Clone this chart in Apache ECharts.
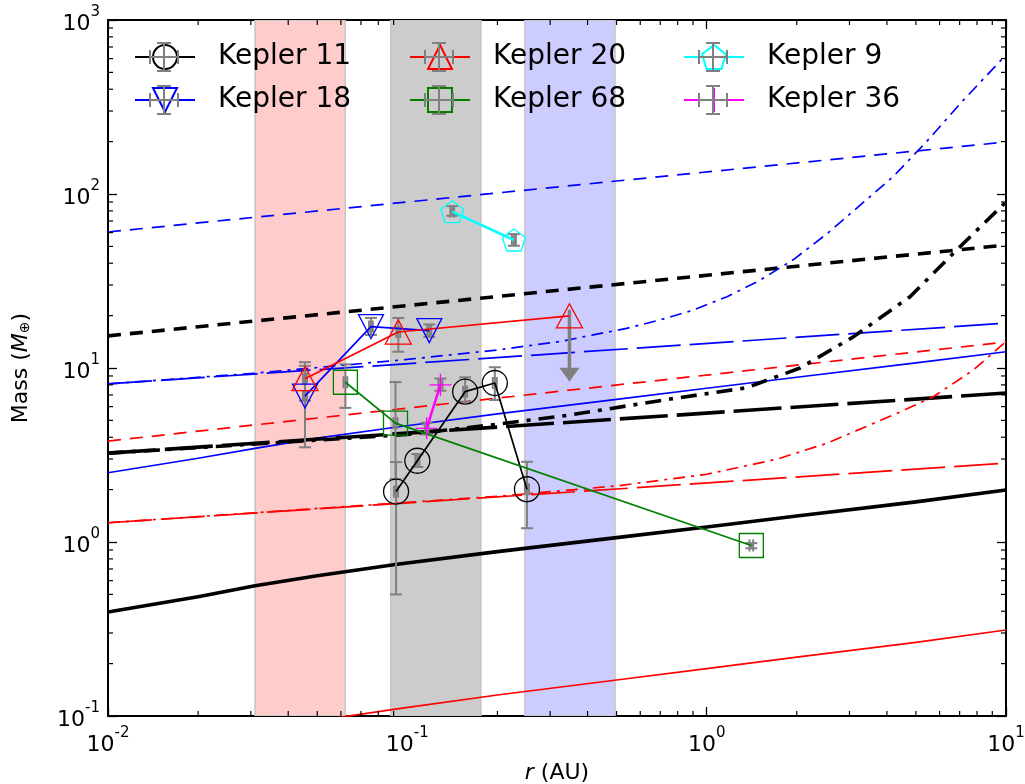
<!DOCTYPE html>
<html><head><meta charset="utf-8">
<script src="https://cdn.jsdelivr.net/npm/echarts@6/dist/echarts.min.js"></script>
<style>html,body{margin:0;padding:0;background:#fff}#c{width:1025px;height:784px}</style>
</head><body><div id="c"></div>
<script>
const FONT = 'DejaVu Sans';

// ---- axis ticks ----
const xMajorTicks = [0.01, 0.1, 1, 10];
const yMajorTicks = [0.1, 1, 10, 100, 1000];
const xMinorTicks = [0.02,0.03,0.04,0.05,0.06,0.07,0.08,0.09,0.2,0.3,0.4,0.5,0.6,0.7,0.8,0.9,2,3,4,5,6,7,8,9];
const yMinorTicks = [0.2,0.3,0.4,0.5,0.6,0.7,0.8,0.9,2,3,4,5,6,7,8,9,20,30,40,50,60,70,80,90,200,300,400,500,600,700,800,900];

// ---- shaded bands (AU) ----
const bandStart = [0.031, 0.088, 0.247];
const bandEnd   = [0.062, 0.176, 0.494];
const bandColor = ['#ffcccc', '#cccccc', '#ccccff'];

// ---- model lines ----
const rEnds = [0.01, 10];
const blueDashM      = [60.5, 199];
const blackDashM     = [15.3, 50.9];
const blueLongDashM  = [8.1, 18.1];
const redDashM       = [3.8, 14.1];
const blackLongDashM = [3.24, 7.18];
const redLongDashM   = [1.29, 2.84];

const rCurve = [0.01, 0.02, 0.031, 0.05, 0.0925, 0.2, 0.5, 1, 2, 5, 10];
const blueSolidM  = [2.50, 3.03, 3.45, 3.95, 4.58, 5.45, 6.6, 7.65, 8.85, 10.7, 12.4];
const blackSolidM = [0.396, 0.485, 0.56, 0.64, 0.745, 0.88, 1.06, 1.22, 1.41, 1.70, 1.99];
const redSolidM   = [0.058, 0.071, 0.081, 0.094, 0.110, 0.132, 0.161, 0.187, 0.218, 0.265, 0.312];

const rBlueDD = [0.01, 0.03, 0.1, 0.2, 0.324, 0.418, 0.54, 0.70, 0.90, 1.17, 1.51, 1.95, 2.52, 3.25, 4.2, 5.43, 7.02, 10];
const blueDashDotM = [8.1, 9.3, 11.2, 12.7, 14.2, 15.5, 16.9, 18.9, 21.5, 25.7, 32.0, 42.0, 59, 86, 126, 200, 330, 630];

const rBlackDD = [0.01, 0.1, 0.2, 0.35, 0.754, 1.36, 2.05, 3.09, 4.78, 7.02, 10];
const blackDashDotM = [3.24, 4.15, 4.75, 5.37, 6.63, 7.7, 10.0, 15.1, 25.7, 49.8, 90];

const rRedDD = [0.01, 0.1, 0.2, 0.5, 1.0, 1.714, 2.518, 4.2, 5.72, 7.78, 10];
const redDashDotM = [1.29, 1.69, 1.83, 2.1, 2.45, 2.99, 3.69, 5.37, 6.84, 9.74, 14.2];

// ---- planets: r (AU), mass (M_earth), mass error bounds, r error ----
const k11R  = [0.0917, 0.108, 0.156, 0.196, 0.251];
const k11M  = [1.95, 2.93, 7.31, 8.2, 2.01];
const k11Hi = [2.88, 3.2, 8.84, 10.1, 2.89];
const k11Lo = [0.50, 2.7, 6.4, 6.55, 1.20];
const k11RE = [0.0014, 0.0017, 0.0024, 0.003, 0.004];

const k18R  = [0.0455, 0.0756, 0.1184];
const k18M  = [6.9, 17.3, 16.4];
const k18Hi = [10.3, 19.4, 17.8];
const k18Lo = [3.5, 15.5, 15.1];
const k18RE = [0.0007, 0.0011, 0.0018];

const k20R  = [0.0455, 0.0933, 0.348];
const k20M  = [8.68, 16.1, 19.95];
const k20Hi = [10.8, 19.4];
const k20Lo = [6.5, 12.4];
const k20RE = [0.0007, 0.0014];
const k20LimitTip = 8.34;   // upper-limit arrow for Kepler-20 d

const k68R  = [0.0621, 0.0913, 1.41];
const k68M  = [8.28, 4.82, 0.955];
const k68Hi = [10.5, 8.3, 0.985];
const k68Lo = [5.9, 2.3, 0.92];
const k68RE = [0.0009, 0.0014, 0.02];

const k9R  = [0.1413, 0.227];
const k9M  = [79.1, 54.4];
const k9Hi = [85.2, 58.8];
const k9Lo = [75.0, 50.4];
const k9RE = [0.002, 0.0035];

const k36R  = [0.116, 0.129];
const k36M  = [4.5, 8.0];
const k36Hi = [4.85, 8.7];
const k36Lo = [4.15, 7.4];
const k36RE = [0.0017, 0.002];

// ---- helpers ----
function pairs(xs, ys) { return xs.map((x, i) => [x, ys[i]]); }

function modelLine(xs, ys, color, width, dash) {
  return {
    type: 'line', data: pairs(xs, ys), symbol: 'none', silent: true, clip: true, smooth: false,
    lineStyle: { color: color, width: width, type: dash, cap: 'butt', join: 'round' },
    z: 3, animation: false
  };
}

function planetLine(name, xs, ys, color, symbol, size, rotate, lw) {
  return {
    type: 'line', name: name, data: pairs(xs, ys), symbol: symbol, symbolSize: size,
    symbolRotate: rotate || 0, showAllSymbol: true, clip: false,
    lineStyle: { color: color, width: lw },
    itemStyle: { color: 'rgba(0,0,0,0)', borderColor: color, borderWidth: 1.3 },
    emphasis: { disabled: true }, z: 10, animation: false
  };
}

const errData = [];
function addErr(rs, ms, lo, hi, re) {
  for (let i = 0; i < lo.length; i++) errData.push([rs[i], ms[i], lo[i], hi[i], rs[i] - re[i], rs[i] + re[i]]);
}
addErr(k11R, k11M, k11Lo, k11Hi, k11RE);
addErr(k18R, k18M, k18Lo, k18Hi, k18RE);
addErr(k20R, k20M, k20Lo, k20Hi, k20RE);
addErr(k68R, k68M, k68Lo, k68Hi, k68RE);
addErr(k9R, k9M, k9Lo, k9Hi, k9RE);
addErr(k36R, k36M, k36Lo, k36Hi, k36RE);

const GRAY = '#808080';
function errRender(params, api) {
  const x = api.value(0), y = api.value(1);
  const pLo = api.coord([x, api.value(2)]), pHi = api.coord([x, api.value(3)]);
  const pXl = api.coord([api.value(4), y]), pXh = api.coord([api.value(5), y]);
  const c = 6, st = { stroke: GRAY, lineWidth: 2 };
  const L = (x1, y1, x2, y2) => ({ type: 'line', shape: { x1, y1, x2, y2 }, style: st });
  return { type: 'group', children: [
    L(pLo[0], pLo[1], pHi[0], pHi[1]),
    L(pLo[0] - c, pLo[1], pLo[0] + c, pLo[1]),
    L(pHi[0] - c, pHi[1], pHi[0] + c, pHi[1]),
    L(pXl[0], pXl[1], pXh[0], pXh[1]),
    L(pXl[0], pXl[1] - c, pXl[0], pXl[1] + c),
    L(pXh[0], pXh[1] - c, pXh[0], pXh[1] + c)
  ]};
}

function arrowRender(params, api) {
  const x = api.value(0);
  const p0 = api.coord([x, api.value(1)]), p1 = api.coord([x, api.value(2)]);
  const hw = 10, hh = 14;
  return { type: 'group', children: [
    { type: 'line', shape: { x1: p0[0], y1: p0[1] - 6, x2: p1[0], y2: p1[1] - hh + 1 }, style: { stroke: GRAY, lineWidth: 3.5 } },
    { type: 'polygon', shape: { points: [[p1[0] - hw, p1[1] - hh], [p1[0] + hw, p1[1] - hh], [p1[0], p1[1]]] }, style: { fill: GRAY } }
  ]};
}

function bandRender(params, api) {
  const cs = params.coordSys;
  const a = api.coord([api.value(0), 1]), b = api.coord([api.value(2), 1]);
  return { type: 'rect', shape: { x: a[0], y: cs.y, width: b[0] - a[0], height: cs.height },
    style: { fill: bandColor[params.dataIndex], stroke: '#c4c4c4', lineWidth: 1.5 } };
}

function xMinorRender(params, api) {
  const cs = params.coordSys, p = api.coord([api.value(0), 1]);
  const st = { stroke: '#000', lineWidth: 1.2 };
  return { type: 'group', children: [
    { type: 'line', shape: { x1: p[0], y1: cs.y + cs.height, x2: p[0], y2: cs.y + cs.height - 5 }, style: st },
    { type: 'line', shape: { x1: p[0], y1: cs.y, x2: p[0], y2: cs.y + 5 }, style: st }
  ]};
}
function yMinorRender(params, api) {
  const cs = params.coordSys, p = api.coord([1, api.value(1)]);
  const st = { stroke: '#000', lineWidth: 1.2 };
  return { type: 'group', children: [
    { type: 'line', shape: { x1: cs.x, y1: p[1], x2: cs.x + 5, y2: p[1] }, style: st },
    { type: 'line', shape: { x1: cs.x + cs.width, y1: p[1], x2: cs.x + cs.width - 5, y2: p[1] }, style: st }
  ]};
}

function powLabel(v) {
  const e = Math.round(Math.log10(v));
  return '{b|10}{s|' + (e < 0 ? '-' + (-e) : e) + '}';
}
const labelRich = {
  b: { fontSize: 22, fontFamily: FONT, color: '#000', lineHeight: 30, verticalAlign: 'bottom' },
  s: { fontSize: 15, fontFamily: FONT, color: '#000', lineHeight: 15, verticalAlign: 'top' }
};

function logAxis(extra, min, max) {
  return Object.assign({
    type: 'log', logBase: 10, min: min, max: max,
    axisLine: { show: true, lineStyle: { color: '#000', width: 2 } },
    axisTick: { show: true, inside: true, length: 9, lineStyle: { color: '#000', width: 1.3 } },
    splitLine: { show: false }, minorTick: { show: false }, minorSplitLine: { show: false }
  }, extra);
}

// legend layout
const legLeft = [134, 409, 683];
const legRowY = [57, 100];
const legIconW = 60, legIconH = 30;
const legendGraphics = [];
legLeft.forEach(l => legRowY.forEach(cy => {
  const cx = l + legIconW / 2, st = { stroke: GRAY, lineWidth: 2 };
  const L = (x1, y1, x2, y2) => ({ type: 'line', shape: { x1, y1, x2, y2 }, style: st, z: 100 });
  legendGraphics.push(L(cx - 14, cy, cx + 14, cy), L(cx - 14, cy - 7, cx - 14, cy + 7), L(cx + 14, cy - 7, cx + 14, cy + 7),
    L(cx, cy - 14, cx, cy + 14), L(cx - 7, cy - 14, cx + 7, cy - 14), L(cx - 7, cy + 14, cx + 7, cy + 14));
}));

function legendCol(i, names) {
  return {
    data: names, orient: 'vertical', left: legLeft[i], top: legRowY[0] - legIconH / 2, padding: 0,
    itemWidth: legIconW, itemHeight: legIconH, itemGap: legRowY[1] - legRowY[0] - legIconH,
    selectedMode: false,
    textStyle: { fontSize: 28, fontFamily: FONT, color: '#000', lineHeight: 30, padding: [0, 0, 0, 18] }
  };
}

const pentagon = 'path://M0,-1L0.951,-0.309L0.588,0.809L-0.588,0.809L-0.951,-0.309Z';
const plus = 'path://M5,0L5,10M0,5L10,5';

const option = {
  backgroundColor: '#fff',
  animation: false,
  grid: { left: 108, right: 19, top: 20, bottom: 68, containLabel: false, outerBoundsMode: 'none' },
  xAxis: [
    logAxis({ position: 'bottom', name: '{i|r} (AU)', nameLocation: 'middle', nameGap: 46,
      nameTextStyle: { fontSize: 22, fontFamily: FONT, color: '#000',
        rich: { i: { fontSize: 22, fontFamily: FONT, fontStyle: 'italic', color: '#000' } } },
      axisLabel: { show: true, margin: 10, formatter: powLabel, rich: labelRich } }, 0.01, 10),
    logAxis({ position: 'top', axisLabel: { show: false } }, 0.01, 10)
  ],
  yAxis: [
    logAxis({ position: 'left', name: 'Mass ({i|M}{sub|⊕})', nameLocation: 'middle', nameGap: 76, nameRotate: 90,
      nameTextStyle: { fontSize: 22, fontFamily: FONT, color: '#000',
        rich: { i: { fontSize: 22, fontFamily: FONT, fontStyle: 'italic', color: '#000' },
                sub: { fontSize: 14, fontFamily: FONT, color: '#000', verticalAlign: 'bottom', lineHeight: 22 } } },
      axisLabel: { show: true, margin: 8, formatter: powLabel, rich: labelRich } }, 0.1, 1000),
    logAxis({ position: 'right', axisLabel: { show: false } }, 0.1, 1000)
  ],
  legend: [
    legendCol(0, ['Kepler 11', 'Kepler 18']),
    legendCol(1, ['Kepler 20', 'Kepler 68']),
    legendCol(2, ['Kepler 9', 'Kepler 36'])
  ],
  graphic: legendGraphics,
  series: [
    { type: 'custom', renderItem: bandRender, data: bandStart.map((s, i) => [s, 1, bandEnd[i]]),
      encode: { x: [0, 2], y: 1 }, silent: true, z: 1, clip: true },
    { type: 'custom', renderItem: xMinorRender, data: xMinorTicks.map(v => [v, 1]), silent: true, z: 20 },
    { type: 'custom', renderItem: yMinorRender, data: yMinorTicks.map(v => [1, v]), silent: true, z: 20 },

    modelLine(rEnds, blueDashM, '#0000ff', 1.7, [13, 9]),
    modelLine(rEnds, blackDashM, '#000', 3.6, [13, 9]),
    modelLine(rEnds, blueLongDashM, '#0000ff', 1.7, [44, 9]),
    modelLine(rBlueDD, blueDashDotM, '#0000ff', 1.7, [12, 6, 3, 6]),
    modelLine(rCurve, blueSolidM, '#0000ff', 1.7, 'solid'),
    modelLine(rEnds, redDashM, '#ff0000', 1.7, [13, 9]),
    modelLine(rEnds, blackLongDashM, '#000', 3.6, [48, 9]),
    modelLine(rBlackDD, blackDashDotM, '#000', 3.6, [16, 8, 4, 8]),
    modelLine(rEnds, redLongDashM, '#ff0000', 1.7, [44, 9]),
    modelLine(rRedDD, redDashDotM, '#ff0000', 1.7, [12, 6, 3, 6]),
    modelLine(rCurve, blackSolidM, '#000', 3.6, 'solid'),
    modelLine(rCurve, redSolidM, '#ff0000', 1.7, 'solid'),

    { type: 'custom', renderItem: errRender, data: errData, silent: true, z: 8, clip: false },
    { type: 'custom', renderItem: arrowRender, data: [[k20R[2], k20M[2], k20LimitTip]], silent: true, z: 8 },

    planetLine('Kepler 11', k11R, k11M, '#000000', 'circle', 25, 0, 1.7),
    planetLine('Kepler 18', k18R, k18M, '#0000ff', 'triangle', [25, 24], 180, 1.7),
    planetLine('Kepler 20', k20R, k20M, '#ff0000', 'triangle', [26, 24], 0, 1.7),
    planetLine('Kepler 68', k68R, k68M, '#008000', 'rect', 24, 0, 1.7),
    planetLine('Kepler 9', k9R, k9M, '#00ffff', pentagon, [23, 22], 0, 2.5),
    planetLine('Kepler 36', k36R, k36M, '#ff00ff', plus, 22, 0, 2.5)
  ]
};

const chart = echarts.init(document.getElementById('c'), null, { renderer: 'canvas' });
chart.setOption(option);
</script>
</body></html>
